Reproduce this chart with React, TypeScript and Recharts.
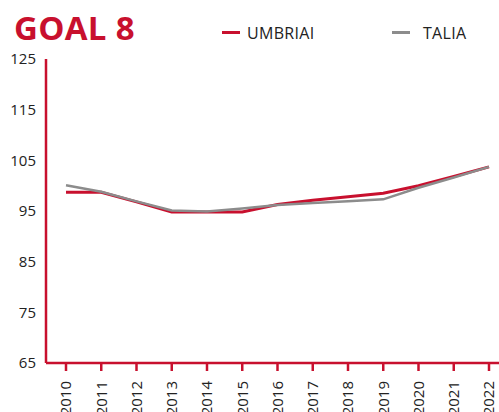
import { CartesianGrid, Line, LineChart, XAxis, YAxis } from "recharts";

const years = ["2010", "2011", "2012", "2013", "2014", "2015", "2016", "2017", "2018", "2019", "2020", "2021", "2022"];
const umbria = [98.7, 98.7, 96.8, 94.8, 94.8, 94.8, 96.3, 97.1, 97.8, 98.5, 100.0, 101.8, 103.7];
const italia = [100.1, 98.8, 96.9, 95.1, 94.9, 95.5, 96.2, 96.6, 96.9, 97.3, 99.6, 101.6, 103.7];
const yTicks = [65, 75, 85, 95, 105, 115, 125];

const RED = "#c8102e";
const GRAY = "#8c8c8c";
const FONT = "'Open Sans', sans-serif";

const data = years.map((year, i) => ({ year, umbria: umbria[i], italia: italia[i] }));

const YearTick = (props: any) => {
  const { x, y, payload } = props;
  return (
    <text
      x={0}
      y={0}
      dy="0.35em"
      textAnchor="end"
      transform={`translate(${x},${y + 8}) rotate(-90)`}
      fontFamily={FONT}
      fontSize={15}
      fill="#222"
    >
      {payload.value}
    </text>
  );
};

export default function App() {
  return (
    <div style={{ position: "fixed", left: 0, top: 0, width: 499, height: 412, background: "#fff", fontFamily: FONT }}>
      <div style={{ position: "absolute", left: 14, top: 5, fontSize: 33, fontWeight: 700, color: RED, letterSpacing: 0.3 }}>
        GOAL 8
      </div>
      <div style={{ position: "absolute", left: 222, top: 31, width: 18, height: 3, background: RED }} />
      <div style={{ position: "absolute", left: 247, top: 22, fontSize: 16, color: "#222", letterSpacing: 0.3 }}>UMBRIAI</div>
      <div style={{ position: "absolute", left: 392, top: 31, width: 18, height: 3, background: GRAY }} />
      <div style={{ position: "absolute", left: 423, top: 22, fontSize: 16, color: "#222", letterSpacing: 0.3 }}>TALIA</div>
      <LineChart width={499} height={412} data={data} margin={{ top: 59, right: 0, bottom: 0, left: 0 }}>
        <CartesianGrid stroke="none" />
        <XAxis
          dataKey="year"
          height={49}
          padding={{ left: 20, right: 10 }}
          axisLine={{ stroke: RED, strokeWidth: 2.5 }}
          tickLine={{ stroke: RED, strokeWidth: 2.5 }}
          tickSize={8}
          tick={<YearTick />}
          interval={0}
        />
        <YAxis
          domain={[65, 125]}
          ticks={yTicks}
          width={46}
          axisLine={{ stroke: RED, strokeWidth: 2.5 }}
          tickLine={false}
          tickMargin={4}
          tick={{ fontFamily: FONT, fontSize: 15, fill: "#222" }}
        />
        <Line dataKey="umbria" stroke={RED} strokeWidth={3} dot={false} isAnimationActive={false} />
        <Line dataKey="italia" stroke={GRAY} strokeWidth={2.5} dot={false} isAnimationActive={false} />
      </LineChart>
    </div>
  );
}
